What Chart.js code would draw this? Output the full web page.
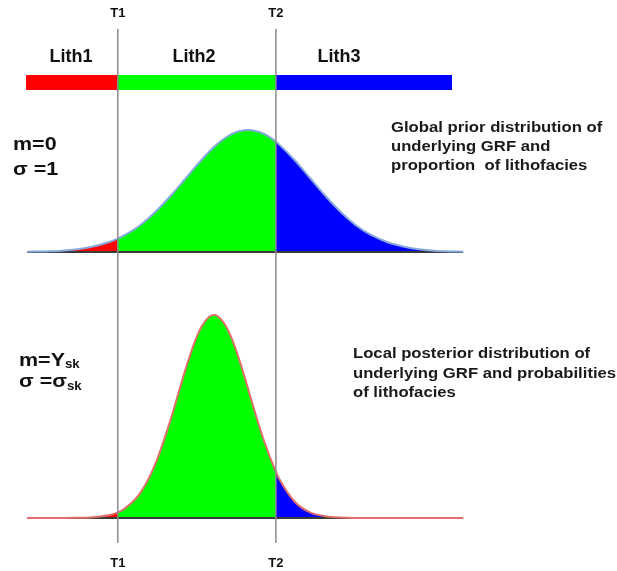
<!DOCTYPE html>
<html>
<head>
<meta charset="utf-8">
<script src="https://cdn.jsdelivr.net/npm/chart.js@4.4.1/dist/chart.umd.min.js"></script>
<style>
html, body { margin: 0; padding: 0; background: #fff; }
#wrap { width: 617px; height: 571px; }
</style>
</head>
<body>
<div id="wrap"><canvas id="chart" width="617" height="571"></canvas></div>
<script>
// thresholds on the GRF axis and the lithofacies they split
const thresholds = [-2.1, 0.45];
const thresholdLabels = ['T1', 'T2'];
const lithLabels = ['Lith1', 'Lith2', 'Lith3'];
const lithColors = ['#ff0000', '#00ff00', '#0000ff'];
const barRange = [-3.58, 3.29];
const baseRange = [-3.56, 3.47];

// global prior, m=0, sigma=1
const priorX = [-3.56, -3.25, -3, -2.75, -2.5, -2.25, -2.1, -2, -1.75, -1.5, -1.25, -1, -0.75, -0.5, -0.25, 0,
                0.25, 0.45, 0.5, 0.75, 1, 1.25, 1.5, 1.75, 2, 2.25, 2.5, 2.75, 3, 3.25, 3.47];
const priorY = [0.001, 0.002, 0.004, 0.009, 0.018, 0.032, 0.044, 0.054, 0.086, 0.13, 0.183, 0.242, 0.301, 0.352, 0.387, 0.399,
                0.387, 0.361, 0.352, 0.301, 0.242, 0.183, 0.13, 0.086, 0.054, 0.032, 0.018, 0.009, 0.004, 0.002, 0.001];

// local posterior
const postX = [-3.56, -3, -2.75, -2.5, -2.25, -2.1, -2, -1.75, -1.5, -1.25, -1.125, -1, -0.875, -0.75, -0.625, -0.55,
               -0.5, -0.375, -0.25, -0.125, 0, 0.125, 0.25, 0.45, 0.5, 0.75, 1, 1.25, 1.5, 1.75, 2, 3.47];
const postY = [0, 0.0001, 0.0005, 0.0024, 0.0093, 0.0193, 0.0302, 0.0809, 0.18, 0.332, 0.421, 0.509, 0.588, 0.648, 0.682, 0.688,
               0.6855, 0.657, 0.602, 0.526, 0.439, 0.3495, 0.266, 0.156, 0.134, 0.056, 0.019, 0.006, 0.0013, 0.0003, 0, 0];

const priorText = ['Global prior distribution of', 'underlying GRF and', 'proportion  of lithofacies'];
const postText = ['Local posterior distribution of', 'underlying GRF and probabilities', 'of lithofacies'];

const W = 617, H = 571;
const FONT = '"Liberation Sans", Arial, sans-serif';

function pts(xs, ys, lo, hi) {
    const out = [];
    xs.forEach((x, i) => { if (x >= lo - 1e-9 && x <= hi + 1e-9) out.push({ x: x, y: ys[i] }); });
    return out;
}

// place value 0 of an axis at basePx, with pxPerUnit pixels per unit
function yAxis(basePx, pxPerUnit) {
    return { type: 'linear', display: false, min: -(H - basePx) / pxPerUnit, max: basePx / pxPerUnit };
}

function regionSets(xs, ys, axis, outline) {
    const lo = [baseRange[0], thresholds[0], thresholds[1]];
    const hi = [thresholds[0], thresholds[1], baseRange[1]];
    const sets = lithColors.map((c, i) => ({
        data: pts(xs, ys, lo[i], hi[i]),
        yAxisID: axis,
        backgroundColor: c,
        borderWidth: 0,
        pointRadius: 0,
        fill: 'origin',
        cubicInterpolationMode: 'monotone',
        order: 3
    }));
    sets.push({
        data: pts(xs, ys, baseRange[0], baseRange[1]),
        yAxisID: axis,
        borderColor: outline,
        borderWidth: 2,
        pointRadius: 0,
        fill: false,
        cubicInterpolationMode: 'monotone',
        order: 1
    });
    sets.push({
        data: [{ x: baseRange[0], y: 0 }, { x: baseRange[1], y: 0 }],
        yAxisID: axis,
        borderColor: '#3a3a3a',
        borderWidth: 2,
        pointRadius: 0,
        fill: false,
        order: 2
    });
    return sets;
}

const barEdges = [barRange[0], thresholds[0], thresholds[1], barRange[1]];
const barSets = lithColors.map((c, i) => ({
    data: [{ x: barEdges[i], y: 0 }, { x: barEdges[i + 1], y: 0 }],
    yAxisID: 'yBar',
    borderColor: c,
    borderWidth: 15,
    borderCapStyle: 'butt',
    pointRadius: 0,
    fill: false,
    order: 4
}));

// text slightly stretched sideways, like the source image
function wideText(ctx, s, x, y, sx) {
    ctx.save();
    ctx.translate(x, y);
    ctx.scale(sx, 1);
    ctx.fillText(s, 0, 0);
    const w = ctx.measureText(s).width * sx;
    ctx.restore();
    return w;
}

const overlay = {
    id: 'overlay',
    afterDatasetsDraw(chart) {
        const ctx = chart.ctx;
        const xs = chart.scales.x;
        ctx.save();

        // threshold lines
        ctx.strokeStyle = '#8a8a8a';
        ctx.lineWidth = 1.5;
        thresholds.forEach(t => {
            const px = xs.getPixelForValue(t);
            ctx.beginPath();
            ctx.moveTo(px, 29);
            ctx.lineTo(px, 543);
            ctx.stroke();
        });

        ctx.fillStyle = '#111';
        ctx.textAlign = 'center';
        ctx.textBaseline = 'alphabetic';
        ctx.font = 'bold 13px ' + FONT;
        thresholds.forEach((t, i) => {
            const px = xs.getPixelForValue(t);
            ctx.fillText(thresholdLabels[i], px, 17);
            ctx.fillText(thresholdLabels[i], px, 567);
        });

        ctx.font = 'bold 18px ' + FONT;
        const lithX = [71, 194, 339];
        lithLabels.forEach((l, i) => ctx.fillText(l, lithX[i], 62));

        // parameters
        ctx.textAlign = 'left';
        const big = 'bold 19px ' + FONT;
        const sub = 'bold 12px ' + FONT;
        ctx.font = big;
        wideText(ctx, 'm=0', 13, 150, 1.13);
        wideText(ctx, '\u03c3 =1', 13, 175, 1.13);

        let w = wideText(ctx, 'm=Y', 19, 366, 1.13);
        ctx.font = sub;
        wideText(ctx, 'sk', 19 + w, 368, 1.1);
        ctx.font = big;
        w = wideText(ctx, '\u03c3 =\u03c3', 19, 387, 1.13);
        ctx.font = sub;
        wideText(ctx, 'sk', 19 + w, 390, 1.1);

        // captions
        ctx.fillStyle = '#1a1a1a';
        ctx.font = 'bold 14.5px ' + FONT;
        priorText.forEach((s, i) => wideText(ctx, s, 391, 132 + i * 19, 1.15));
        postText.forEach((s, i) => wideText(ctx, s, 353, 358 + i * 19.5, 1.15));

        ctx.restore();
    }
};

new Chart(document.getElementById('chart'), {
    type: 'line',
    data: {
        datasets: [
            ...barSets,
            ...regionSets(priorX, priorY, 'yTop', '#86a8dc'),
            ...regionSets(postX, postY, 'yBot', '#de6f6a')
        ]
    },
    options: {
        responsive: false,
        animation: false,
        devicePixelRatio: 1,
        layout: { padding: 0 },
        plugins: { legend: { display: false }, tooltip: { enabled: false } },
        scales: {
            x: { type: 'linear', display: false, min: -248 / 62, max: (W - 248) / 62 },
            yBar: yAxis(82.5, 100),
            yTop: yAxis(252, 305.8),
            yBot: yAxis(518, 295)
        }
    },
    plugins: [overlay]
});
</script>
</body>
</html>
